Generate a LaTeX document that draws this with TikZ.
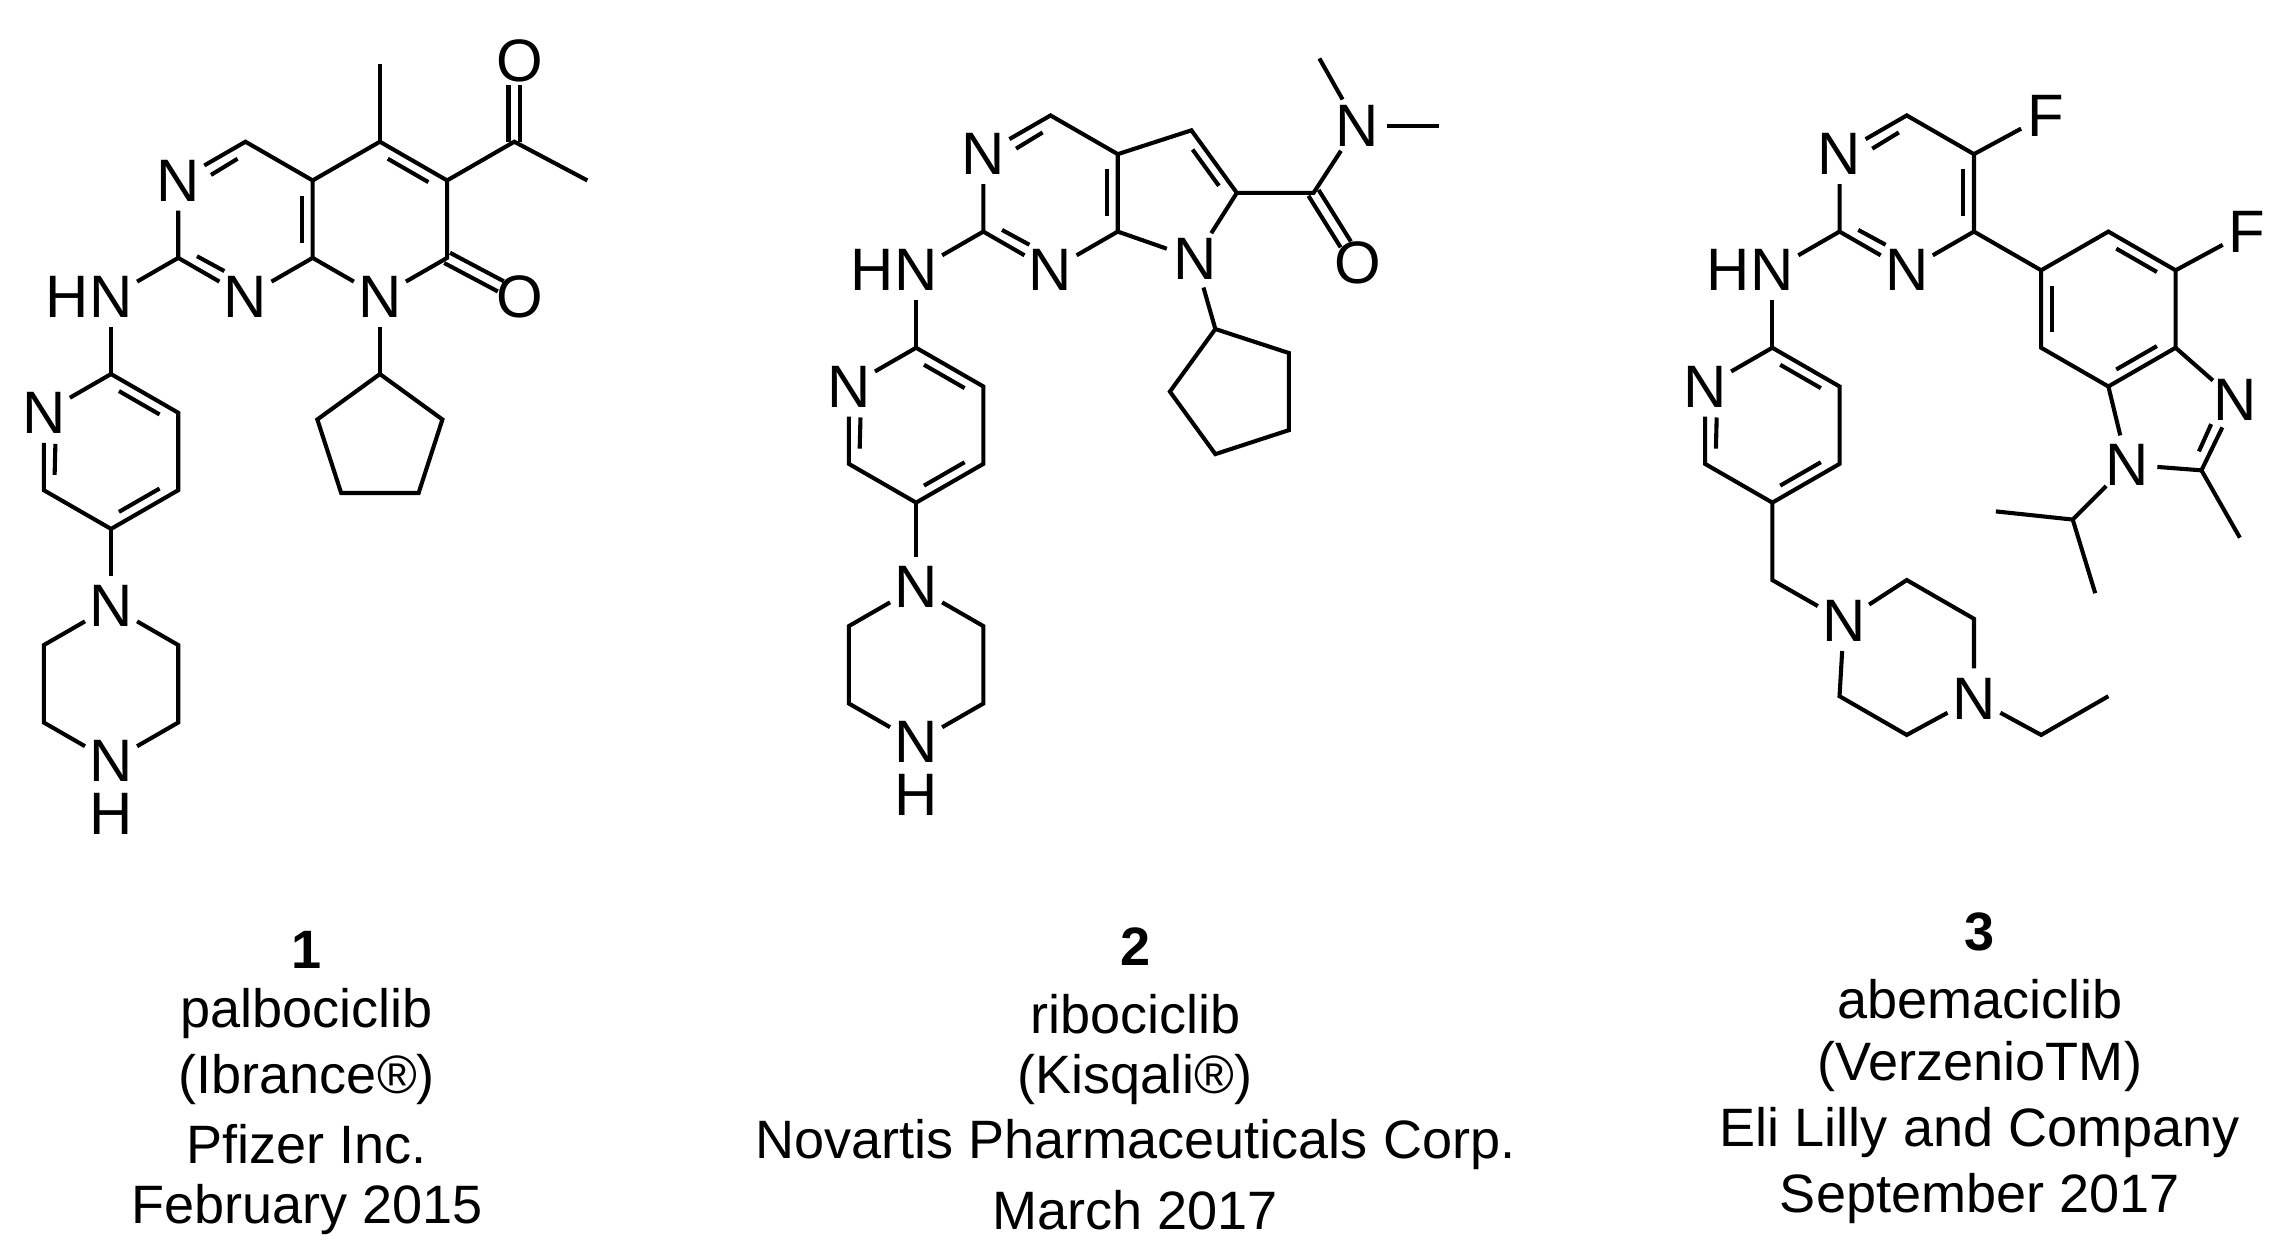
\documentclass[tikz,border=0pt]{standalone}
\usepackage{fontspec}
\setmainfont{Liberation Sans}
\usetikzlibrary{calc}
\tikzset{
  bond/.style={line width=2.8pt},
  atom/.style={circle,inner sep=0pt,font=\fontsize{41}{41}\selectfont},
  hlab/.style={inner sep=0pt,font=\fontsize{41}{41}\selectfont},
  captxt/.style={inner sep=0pt,font=\fontsize{37}{37}\selectfont},
}
\newcommand\dbl[5]{\draw[bond] ($($(#1)!#4!(#2)$)!8pt!(#3)$) -- ($($(#2)!#5!(#1)$)!8pt!(#3)$);}
\begin{document}
\begin{tikzpicture}[x=1pt,y=-1pt]
\useasboundingbox (0,0) rectangle (1568,854);
% ================= molecule 1 =================
\coordinate (aP) at (168,150); \coordinate (aQ) at (260,150);
\node[atom] (aN3) at (122,123.5) {N};
\coordinate (aC4) at (168,97);
\coordinate (aC4a) at (214,123.5);
\coordinate (aC8a) at (214,176.5);
\node[atom] (aN1) at (168,203) {N};
\coordinate (aC2) at (122,176.5);
\coordinate (aC5) at (260,97);
\coordinate (aC6) at (306,123.5);
\coordinate (aC7) at (306,176.5);
\node[atom] (aN8) at (260,203) {N};
\coordinate (aMe5) at (260,44);
\coordinate (aAc) at (352,97);
\node[atom] (aOa) at (356,42) {O};
\coordinate (aMeA) at (402,123.5);
\node[atom] (aO7) at (356,203) {O};
\coordinate (aY1) at (260,256); \coordinate (aY2) at (302.8,287.1); \coordinate (aY3) at (286.5,337.4);
\coordinate (aY4) at (233.5,337.4); \coordinate (aY5) at (217.2,287.1);
\node[atom] (aNH) at (76,203) {N};
\node[hlab,anchor=east] (aHH) at ($(aNH.center)+(-15,0)$) {H};
\coordinate (aR) at (76,309);
\coordinate (aP2) at (76,256); \coordinate (aP3) at (122,282.5); \coordinate (aP4) at (122,335.5);
\coordinate (aP5) at (76,362); \coordinate (aP6) at (30,335.5);
\node[atom] (aPN) at (30,282.5) {N};
\node[atom] (aZ1) at (76,415) {N};
\coordinate (aZ2) at (122,441.5); \coordinate (aZ3) at (122,494.5);
\node[atom] (aZ4) at (76,521) {N};
\coordinate (aZ5) at (30,494.5); \coordinate (aZ6) at (30,441.5);
\node[hlab] (aZH) at (76,557) {H};
\draw[bond] (aN3)--(aC4)--(aC4a)--(aC8a)--(aN1)--(aC2)--(aN3);
\draw[bond] (aC4a)--(aC5)--(aC6)--(aC7)--(aN8)--(aC8a);
\draw[bond] (aC5)--(aMe5); \draw[bond] (aC6)--(aAc)--(aMeA);
\draw[bond,shorten >=16pt] ($(aAc)+(4,0)$) -- ($(aOa)+(0,0)$);
\draw[bond,shorten >=16pt] ($(aAc)+(-4,0)$) -- ($(aOa)+(-8,0)$);
\draw[bond,shorten >=15pt] ($(aC7)+(2,-3.5)$) -- ($(aO7)+(2,-3.5)$);
\draw[bond,shorten >=15pt] ($(aC7)+(-2,3.5)$) -- ($(aO7)+(-2,3.5)$);
\draw[bond] (aN8)--(aY1); \draw[bond] (aY1)--(aY2)--(aY3)--(aY4)--(aY5)--cycle;
\draw[bond] (aC2)--(aNH); \draw[bond] (aNH)--(aP2);
\draw[bond] (aP2)--(aP3)--(aP4)--(aP5)--(aP6)--(aPN)--(aP2);
\draw[bond] (aP5)--(aZ1);
\draw[bond] (aZ1)--(aZ2)--(aZ3)--(aZ4)--(aZ5)--(aZ6)--(aZ1);
\dbl{aN3}{aC4}{aP}{0.38}{0.14}
\dbl{aC4a}{aC8a}{aP}{0.14}{0.14}
\dbl{aC2}{aN1}{aP}{0.14}{0.38}
\dbl{aC5}{aC6}{aQ}{0.14}{0.14}
\dbl{aP2}{aP3}{aR}{0.14}{0.14}
\dbl{aP4}{aP5}{aR}{0.14}{0.14}
\dbl{aPN}{aP6}{aR}{0.38}{0.14}
% ================= molecule 2 =================
\coordinate (bP) at (719,132); \coordinate (bQ) at (801.5,132);
\node[atom] (bN3) at (673,105.5) {N};
\coordinate (bC4) at (719,79);
\coordinate (bC4a) at (765,105.5);
\coordinate (bC7a) at (765,158.5);
\node[atom] (bN1) at (719,185) {N};
\coordinate (bC2) at (673,158.5);
\coordinate (bC5) at (815.4,89.2);
\coordinate (bC6) at (846.5,132);
\node[atom] (bN7) at (818,177) {N};
\coordinate (bY1) at (831.8,225.2); \coordinate (bY2) at (882.1,241.6); \coordinate (bY3) at (882.1,294.4);
\coordinate (bY4) at (831.8,310.8); \coordinate (bY5) at (800.7,268);
\coordinate (bCO) at (899,132);
\node[atom] (bO) at (929,180) {O};
\node[atom] (bNm) at (929,86) {N};
\coordinate (bM1) at (903,40); \coordinate (bM2) at (985,86);
\node[atom] (bNH) at (627,185) {N};
\node[hlab,anchor=east] (bHH) at ($(bNH.center)+(-15,0)$) {H};
\coordinate (bR) at (627,291);
\coordinate (bP2) at (627,238); \coordinate (bP3) at (673,264.5); \coordinate (bP4) at (673,317.5);
\coordinate (bP5) at (627,344); \coordinate (bP6) at (581,317.5);
\node[atom] (bPN) at (581,264.5) {N};
\node[atom] (bZ1) at (627,402) {N};
\coordinate (bZ2) at (673,428.5); \coordinate (bZ3) at (673,481.5);
\node[atom] (bZ4) at (627,508) {N};
\coordinate (bZ5) at (581,481.5); \coordinate (bZ6) at (581,428.5);
\node[hlab] (bZH) at (627,544) {H};
\draw[bond] (bN3)--(bC4)--(bC4a)--(bC7a)--(bN1)--(bC2)--(bN3);
\draw[bond] (bC4a)--(bC5)--(bC6)--(bN7)--(bC7a);
\draw[bond] (bC6)--(bCO)--(bNm); \draw[bond] (bNm)--(bM2); \draw[bond] (bNm)--(bM1);
\draw[bond,shorten >=15pt] ($(bCO)+(3.5,-2)$) -- ($(bO)+(3.5,-2)$);
\draw[bond,shorten >=15pt] ($(bCO)+(-3.5,2)$) -- ($(bO)+(-3.5,2)$);
\draw[bond] (bN7)--(bY1); \draw[bond] (bY1)--(bY2)--(bY3)--(bY4)--(bY5)--cycle;
\draw[bond] (bC2)--(bNH); \draw[bond] (bNH)--(bP2);
\draw[bond] (bP2)--(bP3)--(bP4)--(bP5)--(bP6)--(bPN)--(bP2);
\draw[bond] (bP5)--(bZ1);
\draw[bond] (bZ1)--(bZ2)--(bZ3)--(bZ4)--(bZ5)--(bZ6)--(bZ1);
\dbl{bN3}{bC4}{bP}{0.38}{0.14}
\dbl{bC4a}{bC7a}{bP}{0.14}{0.14}
\dbl{bC2}{bN1}{bP}{0.14}{0.38}
\dbl{bC5}{bC6}{bQ}{0.14}{0.14}
\dbl{bP2}{bP3}{bR}{0.14}{0.14}
\dbl{bP4}{bP5}{bR}{0.14}{0.14}
\dbl{bPN}{bP6}{bR}{0.38}{0.14}
% ================= molecule 3 =================
\coordinate (cP) at (1305,132);
\node[atom] (cN3) at (1259,105.5) {N};
\coordinate (cC6) at (1305,79);
\coordinate (cC5) at (1351,105.5);
\coordinate (cC4) at (1351,158.5);
\node[atom] (cN1) at (1305,185) {N};
\coordinate (cC2) at (1259,158.5);
\node[atom] (cF1) at (1400,79) {F};
\node[atom] (cNH) at (1213,185) {N};
\node[hlab,anchor=east] (cHH) at ($(cNH.center)+(-15,0)$) {H};
\coordinate (cR) at (1213,291);
\coordinate (cP2) at (1213,238); \coordinate (cP3) at (1259,264.5); \coordinate (cP4) at (1259,317.5);
\coordinate (cP5) at (1213,344); \coordinate (cP6) at (1167,317.5);
\node[atom] (cPN) at (1167,264.5) {N};
\coordinate (cCH) at (1213,397);
\node[atom] (cZ1) at (1262,425) {N};
\coordinate (cZ2) at (1305,397); \coordinate (cZ3) at (1351,423.5);
\node[atom] (cZ4) at (1351,478) {N};
\coordinate (cZ5) at (1305,503); \coordinate (cZ6) at (1259,476.5);
\coordinate (cE1) at (1397,503); \coordinate (cE2) at (1443,476.5);
\coordinate (cB) at (1443,211.5);
\coordinate (cBa) at (1397,185); \coordinate (cBt) at (1443,158.5); \coordinate (cBf) at (1489,185);
\coordinate (cB3a) at (1489,238); \coordinate (cB7a) at (1443,264.5); \coordinate (cBl) at (1397,238);
\node[atom] (cF2) at (1538,158.5) {F};
\coordinate (cI) at (1484.2,282.9);
\node[atom] (cIN3) at (1530,274) {N};
\coordinate (cIC2) at (1506.7,321.9);
\node[atom] (cIN1) at (1456,318) {N};
\coordinate (cIMe) at (1533,368);
\coordinate (cIp) at (1418.6,355.6); \coordinate (cIp1) at (1366,350); \coordinate (cIp2) at (1434,406);
\draw[bond] (cN3)--(cC6)--(cC5)--(cC4)--(cN1)--(cC2)--(cN3);
\draw[bond] (cC5)--(cF1);
\draw[bond] (cC2)--(cNH); \draw[bond] (cNH)--(cP2);
\draw[bond] (cP2)--(cP3)--(cP4)--(cP5)--(cP6)--(cPN)--(cP2);
\draw[bond] (cP5)--(cCH)--(cZ1);
\draw[bond] (cZ1)--(cZ2)--(cZ3)--(cZ4)--(cZ5)--(cZ6)--(cZ1);
\draw[bond] (cZ4)--(cE1)--(cE2);
\draw[bond] (cC4)--(cBa);
\draw[bond] (cBa)--(cBt)--(cBf)--(cB3a)--(cB7a)--(cBl)--cycle;
\draw[bond] (cBf)--(cF2);
\draw[bond] (cB3a)--(cIN3)--(cIC2)--(cIN1)--(cB7a);
\draw[bond] (cIC2)--(cIMe);
\draw[bond] (cIN1)--(cIp); \draw[bond] (cIp1)--(cIp)--(cIp2);
\dbl{cN3}{cC6}{cP}{0.38}{0.14}
\dbl{cC5}{cC4}{cP}{0.14}{0.14}
\dbl{cC2}{cN1}{cP}{0.14}{0.38}
\dbl{cP2}{cP3}{cR}{0.14}{0.14}
\dbl{cP4}{cP5}{cR}{0.14}{0.14}
\dbl{cPN}{cP6}{cR}{0.38}{0.14}
\dbl{cBt}{cBf}{cB}{0.14}{0.14}
\dbl{cB3a}{cB7a}{cB}{0.14}{0.14}
\dbl{cBl}{cBa}{cB}{0.14}{0.14}
\dbl{cIN3}{cIC2}{cI}{0.38}{0.14}
% ================= captions =================
\node[captxt] (t1a) at (210,650) {\textbf{1}};
\node[captxt] (t1b) at (210,694) {palbociclib};
\node[captxt] (t1c) at (210,739) {(Ibrance®)};
\node[captxt] (t1d) at (210,783) {Pfizer Inc.};
\node[captxt] (t1e) at (210,828) {February 2015};
\node[captxt] (t2a) at (777,648) {\textbf{2}};
\node[captxt] (t2b) at (777,694) {ribociclib};
\node[captxt] (t2c) at (777,739) {(Kisqali®)};
\node[captxt] (t2d) at (777,783) {Novartis Pharmaceuticals Corp.};
\node[captxt] (t2e) at (777,828) {March 2017};
\node[captxt] (t3a) at (1355,638) {\textbf{3}};
\node[captxt] (t3b) at (1355,684) {abemaciclib};
\node[captxt] (t3c) at (1355,730) {(VerzenioTM)};
\node[captxt] (t3d) at (1355,775) {Eli Lilly and Company};
\node[captxt] (t3e) at (1355,820) {September 2017};
\end{tikzpicture}
\end{document}
